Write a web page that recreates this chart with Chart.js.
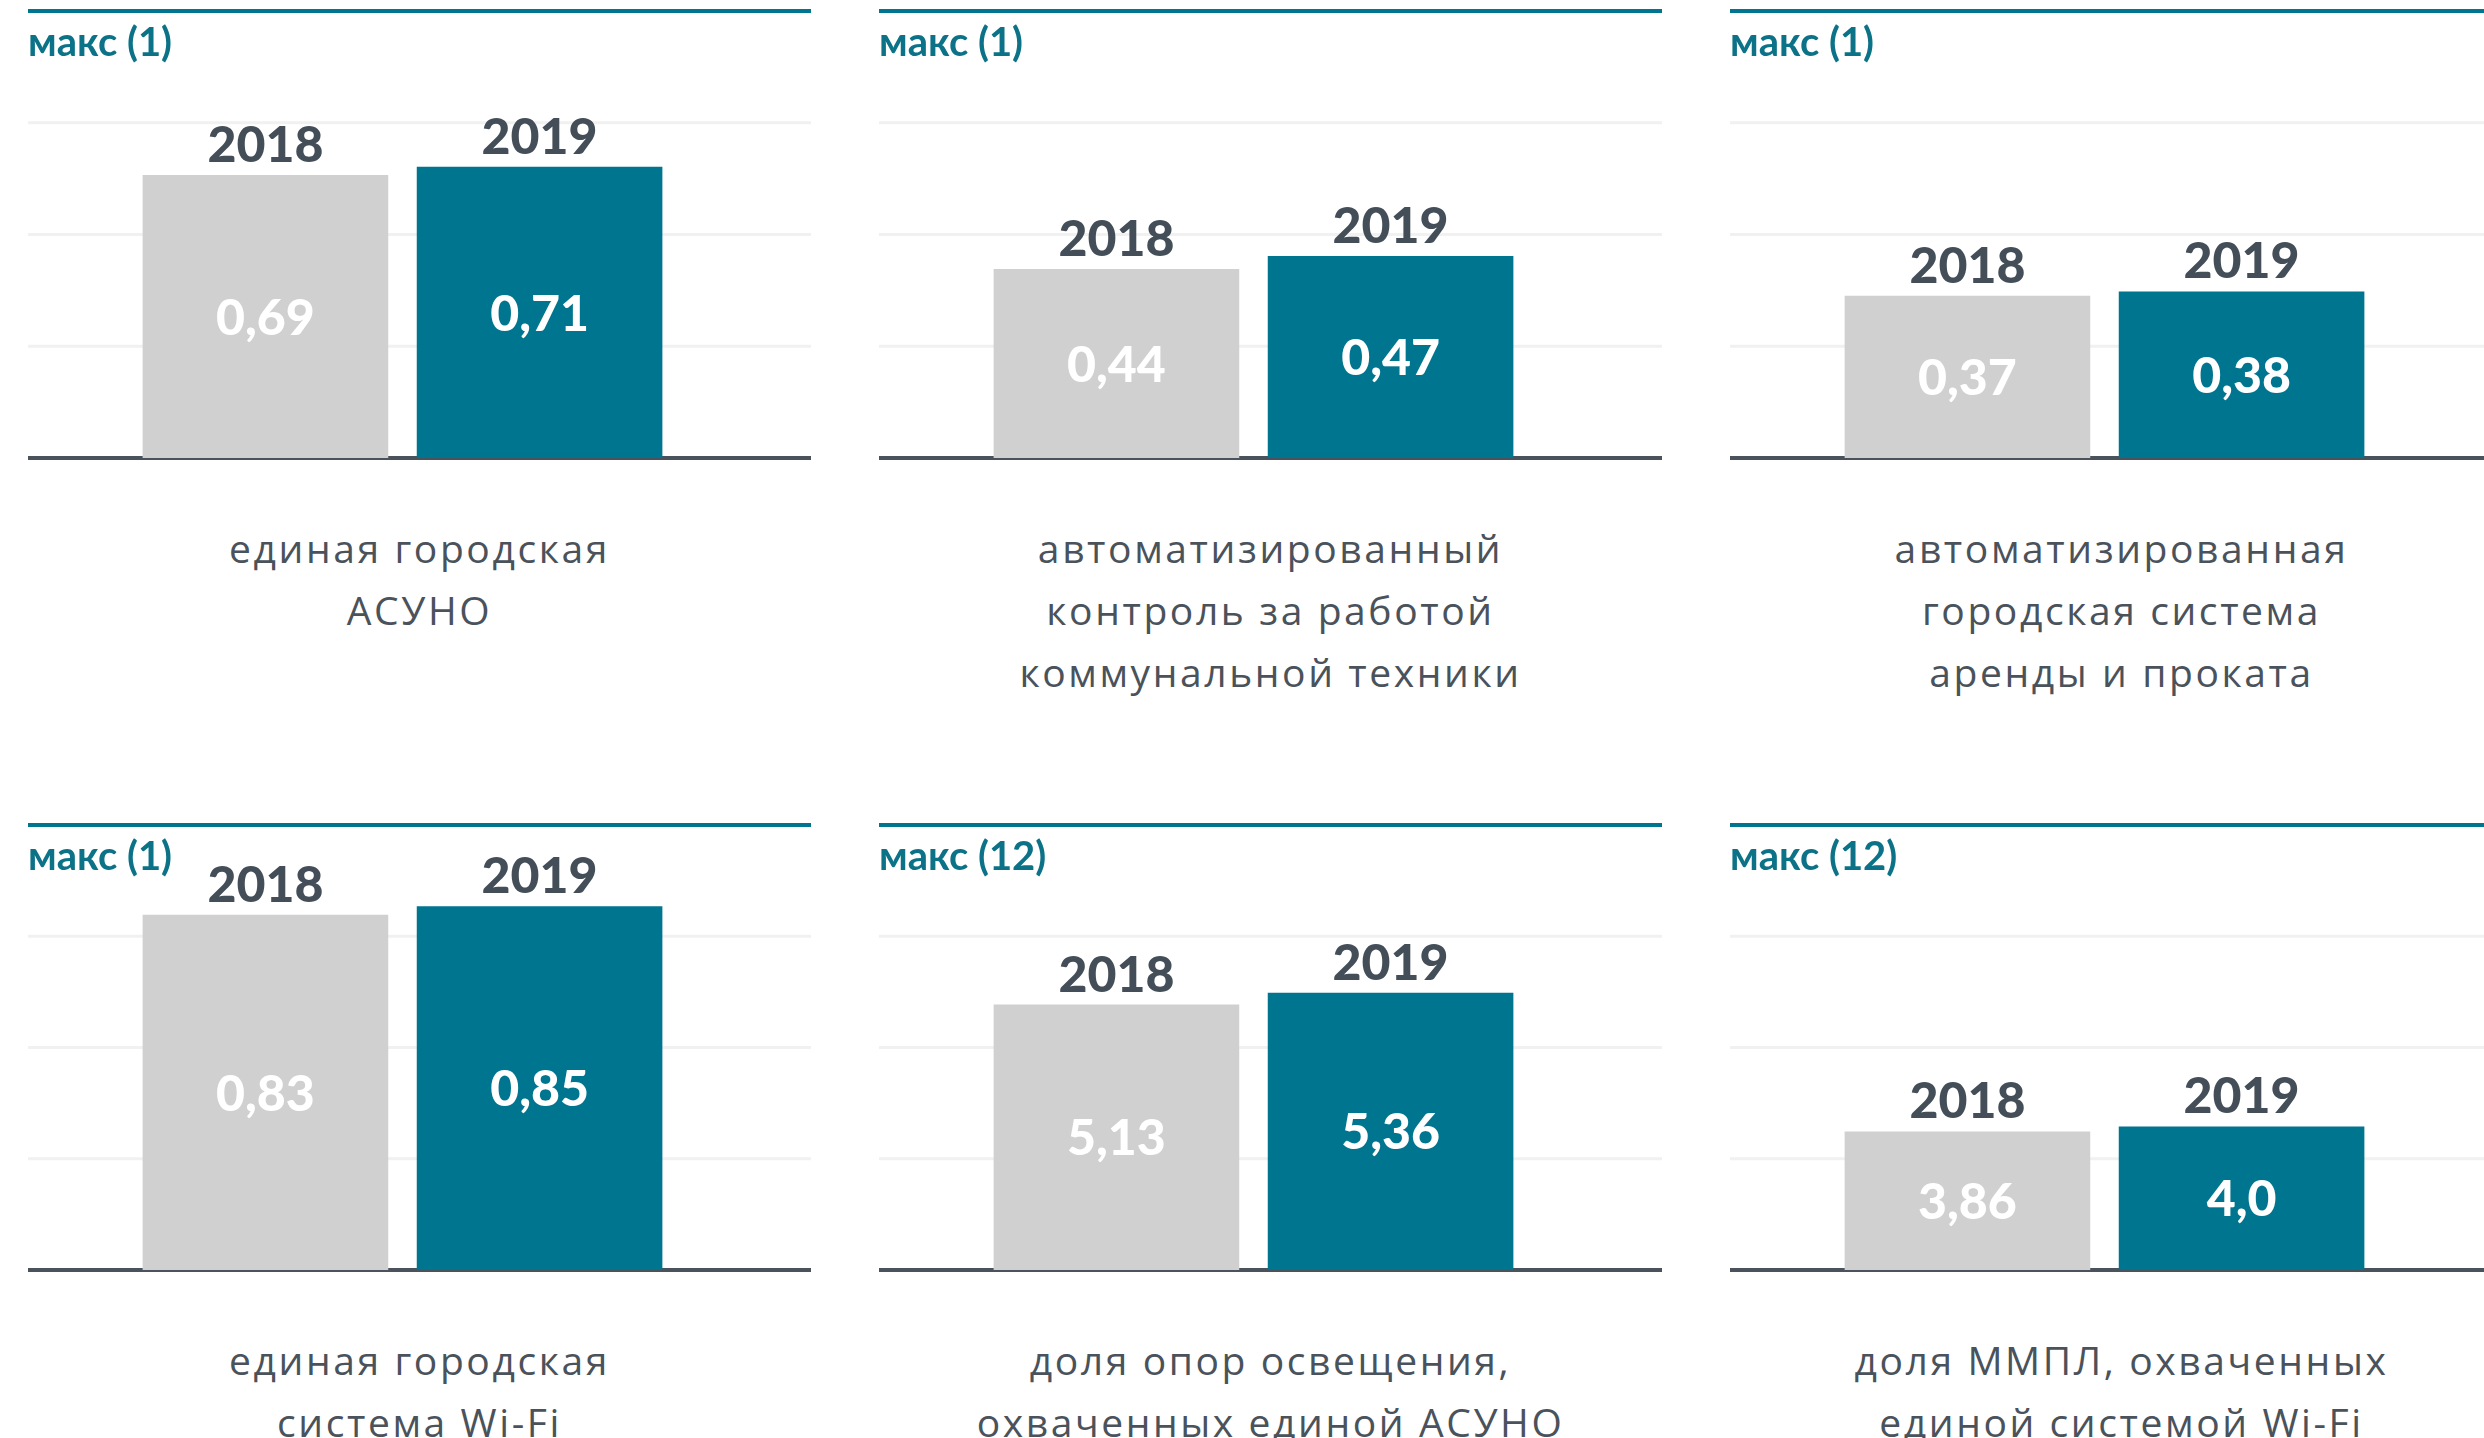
<!DOCTYPE html>
<html><head><meta charset="utf-8">
<script src="https://cdn.jsdelivr.net/npm/chart.js@4.4.1/dist/chart.umd.min.js"></script>
<style>
html,body{margin:0;width:2484px;height:1438px;overflow:hidden;background:#fff}
.box{position:absolute;width:783px}
.max{position:absolute;font:bold 40px Lato;color:#0b7287;line-height:44px}
.desc{position:absolute;width:783px;text-align:center;font:39px "Open Sans";color:#4a525b;line-height:62px;letter-spacing:2.6px}
</style></head><body>
<script>
// === DATA ===
const categories = [
  ['единая городская', 'АСУНО'],
  ['автоматизированный', 'контроль за работой', 'коммунальной техники'],
  ['автоматизированная', 'городская система', 'аренды и проката'],
  ['единая городская', 'система Wi-Fi'],
  ['доля опор освещения,', 'охваченных единой АСУНО'],
  ['доля ММПЛ, охваченных', 'единой системой Wi-Fi'],
];
const maxLabels = ['макс (1)', 'макс (1)', 'макс (1)', 'макс (1)', 'макс (12)', 'макс (12)'];
const years = ['2018', '2019'];
const values2018 = [0.69, 0.44, 0.37, 0.83, 5.13, 3.86];
const values2019 = [0.71, 0.47, 0.38, 0.85, 5.36, 4.0];
const axisMax = [1.09, 1.04, 1.02, 1.04, 8.6, 12.4];

// === LAYOUT ===
const colX = [28, 879, 1730];
const rowTop = [11, 825];
const rowBase = [458, 1270];
const GRAY = '#d0d0d0', TEAL = '#00758f', DARK = '#444e58';

function fmt(v) {
  const s = Number.isInteger(v) ? v.toFixed(1) : String(v);
  return s.replace('.', ',');
}

// grid spans the whole panel, chart area is a bit narrower so the bars sit left of centre
const panelGrid = {
  id: 'panelGrid',
  beforeDatasetsDraw(chart) {
    const ctx = chart.ctx, y = chart.scales.y, n = y.ticks.length - 1;
    y.ticks.forEach((t, i) => {
      const py = y.getPixelForValue(t.value);
      ctx.save();
      ctx.strokeStyle = i === n ? TEAL : i === 0 ? '#4a525b' : '#f1f1f1';
      ctx.lineWidth = i === n || i === 0 ? 4 : 3;
      ctx.beginPath(); ctx.moveTo(0, py); ctx.lineTo(chart.width, py); ctx.stroke();
      ctx.restore();
    });
  }
};

const barText = {
  id: 'barText',
  afterDatasetsDraw(chart) {
    const ctx = chart.ctx;
    chart.data.datasets.forEach((ds, i) => {
      chart.getDatasetMeta(i).data.forEach((bar, j) => {
        ctx.save();
        ctx.textAlign = 'center';
        ctx.font = '900 50px Lato';
        ctx.fillStyle = DARK;
        ctx.textBaseline = 'alphabetic';
        ctx.fillText(ds.label, bar.x, bar.y - 13);
        ctx.fillStyle = '#fff';
        ctx.textBaseline = 'middle';
        ctx.fillText(fmt(ds.data[j]), bar.x, (bar.y + bar.base) / 2 + 2);
        ctx.restore();
      });
    });
  }
};

categories.forEach((lines, k) => {
  const c = k % 3, r = Math.floor(k / 3);
  const top = rowTop[r], base = rowBase[r], left = colX[c];
  const max = axisMax[k];

  const box = document.createElement('div');
  box.className = 'box';
  box.style.left = left + 'px';
  box.style.top = (top - 6) + 'px';
  box.style.height = (base - top + 12) + 'px';
  const canvas = document.createElement('canvas');
  box.appendChild(canvas);
  document.body.appendChild(box);

  const lbl = document.createElement('div');
  lbl.className = 'max';
  lbl.style.left = left + 'px';
  lbl.style.top = (top + 8) + 'px';
  lbl.textContent = maxLabels[k];
  document.body.appendChild(lbl);

  const desc = document.createElement('div');
  desc.className = 'desc';
  desc.style.left = left + 'px';
  desc.style.top = (base + 90 - 31) + 'px';
  desc.innerHTML = lines.join('<br>');
  document.body.appendChild(desc);

  new Chart(canvas, {
    type: 'bar',
    data: {
      labels: [lines.join(' ')],
      datasets: [
        {label: years[0], data: [values2018[k]], backgroundColor: GRAY},
        {label: years[1], data: [values2019[k]], backgroundColor: TEAL},
      ]
    },
    options: {
      responsive: true, maintainAspectRatio: false, animation: false,
      layout: {padding: {top: 6, bottom: 6, left: 0, right: 34}},
      categoryPercentage: 0.732, barPercentage: 0.896,
      plugins: {legend: {display: false}, tooltip: {enabled: false}},
      scales: {
        x: {display: false},
        y: {min: 0, max: max,
          afterBuildTicks: s => { s.ticks = [0, 1, 2, 3, 4].map(i => ({value: max * i / 4})); },
          ticks: {display: false},
          border: {display: false},
          grid: {display: false, drawTicks: false}}
      }
    },
    plugins: [panelGrid, barText]
  });
});
</script>
</body></html>
